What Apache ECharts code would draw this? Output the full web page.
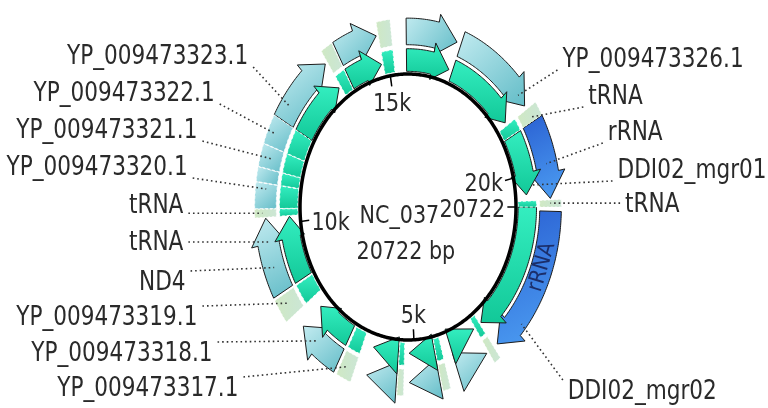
<!DOCTYPE html>
<html>
<head>
<meta charset="utf-8">
<script src="https://cdn.jsdelivr.net/npm/echarts@6/dist/echarts.min.js"></script>
<style>
html, body { margin: 0; background: #fff; }
#map { width: 768px; height: 408px; }
</style>
</head>
<body>
<div id="map"></div>
<script>
var seqName = 'NC_037';
var seqLength = 20722;

// inner track (green) arrows
var cdsStart  = [0,    3250, 4450, 5450, 6850, 8700,  12050, 13850, 15500, 16800, 19060];
var cdsEnd    = [3000, 4000, 5150, 6150, 7900, 10150, 13500, 14800, 16700, 18700, 20450];
var cdsStrand = [1,    -1,   1,    1,    1,    1,     1,     1,     1,     1,     1];

// outer track (light) arrows
var geneStart  = [3250, 4450, 5450, 6850, 8700,  12050, 13850, 15500, 16800];
var geneEnd    = [4000, 5150, 6150, 7900, 10150, 13500, 14800, 16700, 18700];
var geneStrand = [-1,   1,    1,    1,    1,     1,     1,     1,     1];

// rRNA (blue, outer track)
var rrnaStart = [80,   19050];
var rrnaEnd   = [2950, 20560];

// tRNA
var trnaStart = [3050, 4250, 5280, 6450, 8200, 10170, 13560, 14850, 18780, 20590];
var trnaEnd   = [3200, 4420, 5420, 6780, 8650, 10320, 13820, 15150, 19040, 20722];

// short blocks without arrowheads
var blockStart = [10330, 10810, 11080, 11500];
var blockEnd   = [10800, 11070, 11490, 12040];

var tickValues = [5000, 10000, 15000, 20000, 20722];
var tickLabels = ['5k', '10k', '15k', '20k', '20722'];

var labelNames = ['YP_009473323.1', 'YP_009473322.1', 'YP_009473321.1', 'YP_009473320.1',
  'tRNA', 'tRNA', 'ND4', 'YP_009473319.1', 'YP_009473318.1', 'YP_009473317.1',
  'YP_009473326.1', 'tRNA', 'rRNA', 'DDI02_mgr01', 'tRNA', 'DDI02_mgr02'];
var labelTargets = [12350, 11750, 11280, 10700, 10245, 9700, 9200, 8450, 7500, 6600,
  18450, 18950, 19900, 20250, 20650, 2300];

// ---- layout (axis units, backbone radius = 1) ----
var labelX = [-1.48, -1.79, -1.95, -2.04, -2.08, -2.08, -2.06, -1.95, -1.81, -1.57,
  1.43, 1.67, 1.85, 1.94, 2.01, 1.48];
var labelY = [1.128, 0.85, 0.571, 0.293, 0.008, -0.271, -0.571, -0.835, -1.105, -1.368,
  1.105, 0.827, 0.556, 0.271, 0.015, -1.391];
var labelR = [1.32, 1.36, 1.32, 1.32, 1.35, 1.32, 1.32, 1.32, 1.32, 1.32,
  1.32, 1.32, 1.32, 1.16, 1.32, 1.37];

var inner = { rIn: 1.02, rOut: 1.19, headIn: 0.98, headOut: 1.26, mid: 1.10 };
var outer = { rIn: 1.22, rOut: 1.42, headIn: 1.17, headOut: 1.48, mid: 1.32 };
var HEAD = 480;
var FONT = 'DejaVu Sans Condensed';
var TEXT = '#2a2a2a';
var STRETCH = 1.1;   // the source picture is a little taller than wide

var G = echarts.graphic;
var greenFill = function () { return new G.LinearGradient(0, 0, 0, 1, [{offset: 0, color: '#34eec0'}, {offset: 1, color: '#12c898'}]); };
var lightFill = function () { return new G.LinearGradient(0, 0, 1, 1, [{offset: 0, color: '#c4ecf1'}, {offset: 1, color: '#62bcc7'}]); };
var blueFill = function () { return new G.LinearGradient(0, 0, 1, 1, [{offset: 0, color: '#2a60d2'}, {offset: 1, color: '#4d9ff3'}]); };
var paleFill = function () { return new G.LinearGradient(0, 0, 1, 0, [{offset: 0, color: 'rgba(206,232,192,0.95)'}, {offset: 1, color: 'rgba(182,220,196,0.7)'}]); };

function polar(api, bp, r) {
  var a = 2 * Math.PI * bp / seqLength;
  return api.coord([r * Math.cos(a), -r * Math.sin(a)]);
}
function arcPts(api, s, e, r) {
  var n = Math.max(2, Math.ceil(Math.abs(e - s) / 40) + 1);
  var pts = [];
  for (var i = 0; i < n; i++) pts.push(polar(api, s + (e - s) * i / (n - 1), r));
  return pts;
}
function arrowPts(api, s, e, strand, tr) {
  var len = e - s, k;
  if (strand === 0) return arcPts(api, s, e, tr.rOut).concat(arcPts(api, e, s, tr.rIn));
  if (len < 800) {
    if (strand > 0) return [polar(api, s, tr.headOut), polar(api, e, tr.mid), polar(api, s, tr.headIn)];
    return [polar(api, e, tr.headOut), polar(api, s, tr.mid), polar(api, e, tr.headIn)];
  }
  if (strand > 0) {
    k = e - HEAD;
    return arcPts(api, s, k, tr.rOut).concat(
      [polar(api, k, tr.headOut), polar(api, e, tr.mid), polar(api, k, tr.headIn)],
      arcPts(api, k, s, tr.rIn));
  }
  k = s + HEAD;
  return [polar(api, s, tr.mid), polar(api, k, tr.headOut)].concat(
    arcPts(api, k, e, tr.rOut), arcPts(api, e, k, tr.rIn), [polar(api, k, tr.headIn)]);
}

function zip3(a, b, c) { return a.map(function (v, i) { return [v, b[i], c ? c[i] : 0]; }); }

function featureSeries(data, track, fill, stroke, dash, z) {
  return {
    type: 'custom', coordinateSystem: 'cartesian2d', z: z, silent: true,
    data: data,
    renderItem: function (params, api) {
      return {
        type: 'polygon',
        shape: { points: arrowPts(api, api.value(0), api.value(1), api.value(2), track) },
        style: { fill: fill(), stroke: stroke, lineWidth: 1, lineDash: dash }
      };
    }
  };
}

function textEl(x, y, text, size, align, vAlign, color) {
  return { type: 'text', x: x, y: y, scaleY: STRETCH, style: {
    text: text, fill: color || TEXT, fontSize: size, fontFamily: FONT, align: align, verticalAlign: vAlign } };
}

var chart = echarts.init(document.getElementById('map'));

var series = [
  featureSeries(zip3(geneStart, geneEnd, geneStrand), outer, lightFill, '#1c1c1c', null, 1),
  featureSeries(zip3(rrnaStart, rrnaEnd, [1, 1]), outer, blueFill, '#1c1c1c', null, 1),
  featureSeries(zip3(blockStart, blockEnd), outer, lightFill, 'rgba(255,255,255,0.8)', [3, 2], 1),
  featureSeries(zip3(trnaStart, trnaEnd), outer, paleFill, 'rgba(255,255,255,0.7)', [2, 2], 1),
  featureSeries(zip3(cdsStart, cdsEnd, cdsStrand), inner, greenFill, '#1c1c1c', null, 2),
  featureSeries(zip3(blockStart, blockEnd), inner, greenFill, 'rgba(255,255,255,0.9)', [3, 2], 2),
  featureSeries(zip3(trnaStart, trnaEnd), inner, greenFill, 'rgba(255,255,255,0.9)', [3, 2], 2),
  {
    // backbone and centre text
    type: 'custom', coordinateSystem: 'cartesian2d', z: 3, silent: true,
    data: [[0, 0]],
    renderItem: function (params, api) {
      var a = api.coord([-0.08, -0.07]), b = api.coord([-0.02, -0.34]);
      return { type: 'group', children: [
        { type: 'polyline', shape: { points: arcPts(api, 0, seqLength, 1.0) },
          style: { fill: null, stroke: '#000', lineWidth: 3.5 } },
        textEl(a[0], a[1], seqName, 23, 'center', 'middle'),
        textEl(b[0], b[1], seqLength + ' bp', 23, 'center', 'middle')
      ] };
    }
  },
  {
    // ticks
    type: 'custom', coordinateSystem: 'cartesian2d', z: 4, silent: true,
    data: tickValues.map(function (v, i) { return [v, i]; }),
    renderItem: function (params, api) {
      var bp = api.value(0), i = api.value(1);
      var p1 = polar(api, bp, 1.0), p2 = polar(api, bp, 0.92), pl = polar(api, bp, 0.9);
      var a = 2 * Math.PI * bp / seqLength, c = Math.cos(a), s = Math.sin(a);
      return { type: 'group', children: [
        { type: 'line', shape: { x1: p1[0], y1: p1[1], x2: p2[0], y2: p2[1] }, style: { stroke: '#000', lineWidth: 1.5 } },
        textEl(pl[0], pl[1] + 3, tickLabels[i], 23,
          c > 0.5 ? 'right' : (c < -0.5 ? 'left' : 'center'),
          s > 0.5 ? 'bottom' : (s < -0.5 ? 'top' : 'middle'))
      ] };
    }
  },
  {
    // labels with dotted leader lines
    type: 'custom', coordinateSystem: 'cartesian2d', z: 5, silent: true,
    data: labelTargets.map(function (v, i) { return [v, i]; }),
    renderItem: function (params, api) {
      var bp = api.value(0), i = api.value(1);
      var t = polar(api, bp, labelR[i]);
      var p = api.coord([labelX[i], labelY[i]]);
      var left = labelX[i] < 0;
      var sx = p[0] + (left ? 5 : -5);
      var sy = Math.max(p[1] - 12, Math.min(p[1] + 10, t[1]));
      return { type: 'group', children: [
        { type: 'line', shape: { x1: sx, y1: sy, x2: t[0], y2: t[1] },
          style: { stroke: '#333', lineWidth: 1.6, lineDash: [1.6, 3] } },
        textEl(p[0], p[1], labelNames[i], 24, left ? 'right' : 'left', 'middle')
      ] };
    }
  },
  {
    // name written inside the long rRNA arrow
    type: 'custom', coordinateSystem: 'cartesian2d', z: 5, silent: true,
    data: [[1150, 0]],
    renderItem: function (params, api) {
      var bp = api.value(0);
      var c = polar(api, bp, 1.32), p1 = polar(api, bp - 60, 1.32), p2 = polar(api, bp + 60, 1.32);
      var rot = -Math.atan2(p1[1] - p2[1], p1[0] - p2[0]);
      return { type: 'text', x: c[0], y: c[1], rotation: rot, style: {
        text: 'rRNA', fill: '#1b2e6a', fontSize: 22, fontFamily: FONT, align: 'center', verticalAlign: 'middle' } };
    }
  }
];

chart.setOption({
  animation: false,
  backgroundColor: '#fff',
  grid: { left: 246, top: 7.5, width: 324, height: 399 },
  xAxis: { type: 'value', min: -1.5, max: 1.5, show: false },
  yAxis: { type: 'value', min: -1.5, max: 1.5, show: false },
  series: series
});
</script>
</body>
</html>
